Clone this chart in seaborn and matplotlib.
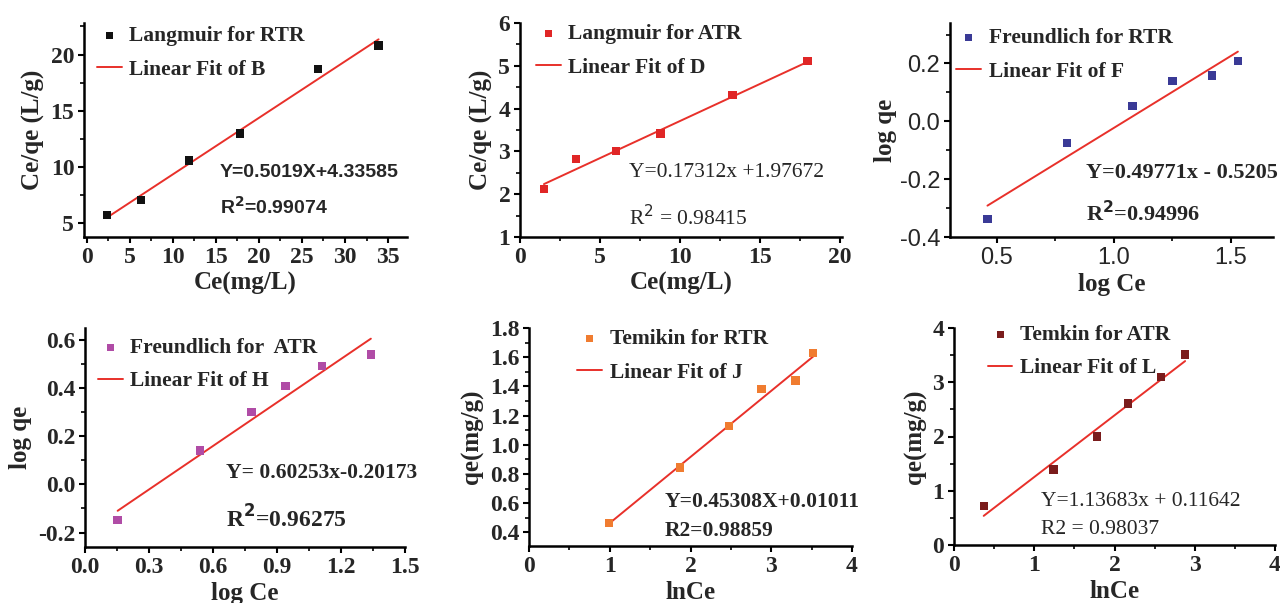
import numpy as np
import pandas as pd
import matplotlib
matplotlib.use("Agg")
import matplotlib.pyplot as plt
from matplotlib.ticker import AutoMinorLocator, FormatStrFormatter, MultipleLocator
import seaborn as sns

sns.set_theme(style="ticks")
plt.rcParams["axes.unicode_minus"] = False
plt.rcParams["font.family"] = ["Liberation Serif", "DejaVu Serif"]

# ---- isotherm data ----
lang_rtr_x = [2.4, 6.3, 11.9, 17.8, 26.9, 33.9]
lang_rtr_y = [5.75, 7.1, 10.6, 13.0, 18.7, 20.8]
lang_rtr_fit = (0.5019, 4.33585)

lang_atr_x = [1.5, 3.5, 6.0, 8.8, 13.3, 18.0]
lang_atr_y = [2.12, 2.82, 3.01, 3.42, 4.32, 5.11]
lang_atr_fit = (0.17312, 1.97672)

freu_rtr_x = [0.46, 0.80, 1.08, 1.25, 1.42, 1.53]
freu_rtr_y = [-0.337, -0.075, 0.052, 0.139, 0.158, 0.208]
freu_rtr_fit = (0.49771, -0.5205)

freu_atr_x = [0.153, 0.539, 0.78, 0.94, 1.11, 1.34]
freu_atr_y = [-0.149, 0.141, 0.30, 0.408, 0.491, 0.54]
freu_atr_fit = (0.60253, -0.20173)

temk_rtr_x = [0.99, 1.87, 2.48, 2.88, 3.30, 3.52]
temk_rtr_y = [0.465, 0.845, 1.13, 1.38, 1.44, 1.63]
temk_rtr_fit = (0.45308, 0.01011)

temk_atr_x = [0.37, 1.24, 1.78, 2.17, 2.58, 2.88]
temk_atr_y = [0.72, 1.39, 2.00, 2.61, 3.10, 3.51]
temk_atr_fit = (1.13683, 0.11642)

FIG_W, FIG_H = 1280, 603
fig = plt.figure(figsize=(FIG_W / 100, FIG_H / 100), dpi=100)

FIT_COLOR = "#e8302a"
TICK_SIZE = 17
LABEL_SIZE = 18
LEGEND_SIZE = 15.5
NOTE_SIZE = 15.5


def px_axes(left, top, right, bottom):
    return fig.add_axes([left / FIG_W, 1 - bottom / FIG_H,
                         (right - left) / FIG_W, (bottom - top) / FIG_H])


def panel(ax, x, y, fit, color, name, fit_name):
    df = pd.DataFrame({"x": x, "y": y})
    xs = np.array([min(x), max(x)])
    line = pd.DataFrame({"x": xs, "y": fit[0] * xs + fit[1]})
    sns.scatterplot(data=df, x="x", y="y", ax=ax, marker="s", s=36,
                    color=color, edgecolor="none", label=name, zorder=3)
    sns.lineplot(data=line, x="x", y="y", ax=ax, color=FIT_COLOR,
                 linewidth=1.4, label=fit_name, zorder=2)
    for side in ("top", "right"):
        ax.spines[side].set_visible(False)
    for side in ("left", "bottom"):
        ax.spines[side].set_linewidth(1.8)
        ax.spines[side].set_color("black")
    ax.xaxis.set_minor_locator(AutoMinorLocator(2))
    ax.yaxis.set_minor_locator(AutoMinorLocator(2))
    ax.tick_params(which="major", direction="out", length=4, width=1.5, color="black", pad=3)
    ax.tick_params(which="minor", direction="out", length=3, width=1.2, color="black")


def legend(ax, ax_x, ax_y):
    return ax.legend(loc="upper left", bbox_to_anchor=(ax_x, ax_y), frameon=False,
                     borderpad=0, borderaxespad=0, handlelength=1.15,
                     handletextpad=0.35, labelspacing=0.62, markerscale=0.85,
                     prop={"family": "Liberation Serif", "weight": "bold", "size": LEGEND_SIZE})


def style_ticks(ax, family, weight, size=TICK_SIZE):
    for lab in ax.get_xticklabels() + ax.get_yticklabels():
        lab.set_fontfamily(family)
        lab.set_fontweight(weight)
        lab.set_fontsize(size)


def labels(ax, xl, yl, xpad=3, ypad=4):
    ax.set_xlabel(xl, fontsize=LABEL_SIZE, fontweight="bold", family="Liberation Serif", labelpad=xpad)
    ax.set_ylabel(yl, fontsize=LABEL_SIZE, fontweight="bold", family="Liberation Serif", labelpad=ypad)


def note(ax, x, y, s, size=NOTE_SIZE, weight="bold", family="Liberation Serif"):
    ax.text(x, y, s, transform=ax.transAxes, fontsize=size, fontweight=weight,
            family=family, va="center")


# Panel 1: Langmuir, RTR
ax1 = px_axes(84, 23, 407, 237)
panel(ax1, lang_rtr_x, lang_rtr_y, lang_rtr_fit, "#111111", "Langmuir for RTR", "Linear Fit of B")
ax1.set_xlim(-0.3, 37.2)
ax1.set_ylim(3.8, 22.8)
ax1.xaxis.set_major_locator(MultipleLocator(5))
ax1.yaxis.set_major_locator(MultipleLocator(5))
labels(ax1, "Ce(mg/L)", "Ce/qe (L/g)")
style_ticks(ax1, "Liberation Serif", "bold")
legend(ax1, 0.04, 0.985)
note(ax1, 0.42, 0.30, "Y=0.5019X+4.33585", size=14, family="Liberation Sans")
note(ax1, 0.42, 0.14, "R$^{\\mathbf{2}}$=0.99074", size=14, family="Liberation Sans")

# Panel 2: Langmuir, ATR
ax2 = px_axes(520, 23, 842, 237)
panel(ax2, lang_atr_x, lang_atr_y, lang_atr_fit, "#e02626", "Langmuir for ATR", "Linear Fit of D")
ax2.set_xlim(0, 20.15)
ax2.set_ylim(1, 6)
ax2.xaxis.set_major_locator(MultipleLocator(5))
ax2.yaxis.set_major_locator(MultipleLocator(1))
labels(ax2, "Ce(mg/L)", "Ce/qe (L/g)")
style_ticks(ax2, "Liberation Serif", "bold")
legend(ax2, 0.05, 0.995)
note(ax2, 0.34, 0.30, "Y=0.17312x +1.97672", weight="normal")
note(ax2, 0.34, 0.09, "R$^{2}$ = 0.98415", weight="normal")

# Panel 3: Freundlich, RTR
ax3 = px_axes(950, 23, 1273, 237)
panel(ax3, freu_rtr_x, freu_rtr_y, freu_rtr_fit, "#3a3a96", "Freundlich for RTR", "Linear Fit of F")
ax3.set_xlim(0.30, 1.68)
ax3.set_ylim(-0.4, 0.34)
ax3.xaxis.set_major_locator(MultipleLocator(0.5))
ax3.yaxis.set_major_locator(MultipleLocator(0.2))
ax3.xaxis.set_major_formatter(FormatStrFormatter("%.1f"))
ax3.yaxis.set_major_formatter(FormatStrFormatter("%.1f"))
labels(ax3, "log Ce", "log qe", ypad=2)
style_ticks(ax3, "Liberation Sans", "normal", 17)
legend(ax3, 0.02, 0.975)
note(ax3, 0.42, 0.30, "Y=0.49771x - 0.5205", size=16)
note(ax3, 0.42, 0.11, "R$^{\\mathbf{2}}$=0.94996", size=16)

# Panel 4: Freundlich, ATR
ax4 = px_axes(85, 328, 405, 547)
panel(ax4, freu_atr_x, freu_atr_y, freu_atr_fit, "#b04ca6", "Freundlich for  ATR", "Linear Fit of H")
ax4.set_xlim(0, 1.5)
ax4.set_ylim(-0.26, 0.65)
ax4.xaxis.set_major_locator(MultipleLocator(0.3))
ax4.yaxis.set_major_locator(MultipleLocator(0.2))
ax4.xaxis.set_major_formatter(FormatStrFormatter("%.1f"))
ax4.yaxis.set_major_formatter(FormatStrFormatter("%.1f"))
labels(ax4, "log Ce", "log qe")
style_ticks(ax4, "Liberation Serif", "bold")
legend(ax4, 0.04, 0.955)
note(ax4, 0.44, 0.34, "Y= 0.60253x-0.20173")
note(ax4, 0.44, 0.13, "R$^{\\mathbf{2}}$=0.96275", size=17)

# Panel 5: Temkin, RTR
ax5 = px_axes(529, 328, 852, 546)
panel(ax5, temk_rtr_x, temk_rtr_y, temk_rtr_fit, "#f07c30", "Temikin for RTR", "Linear Fit of J")
ax5.set_xlim(0, 4)
ax5.set_ylim(0.306, 1.8)
ax5.xaxis.set_major_locator(MultipleLocator(1))
ax5.yaxis.set_major_locator(MultipleLocator(0.2))
ax5.yaxis.set_major_formatter(FormatStrFormatter("%.1f"))
labels(ax5, "lnCe", "qe(mg/g)")
style_ticks(ax5, "Liberation Serif", "bold")
legend(ax5, 0.15, 0.995)
note(ax5, 0.42, 0.20, "Y=0.45308X+0.01011")
note(ax5, 0.42, 0.07, "R2=0.98859")

# Panel 6: Temkin, ATR
ax6 = px_axes(954, 328, 1275, 545)
panel(ax6, temk_atr_x, temk_atr_y, temk_atr_fit, "#7a1c1c", "Temkin for ATR", "Linear Fit of L")
ax6.set_xlim(0, 4)
ax6.set_ylim(0, 4)
ax6.xaxis.set_major_locator(MultipleLocator(1))
ax6.yaxis.set_major_locator(MultipleLocator(1))
labels(ax6, "lnCe", "qe(mg/g)")
style_ticks(ax6, "Liberation Serif", "bold")
legend(ax6, 0.105, 1.015)
note(ax6, 0.27, 0.20, "Y=1.13683x + 0.11642", weight="normal")
note(ax6, 0.27, 0.07, "R2 = 0.98037", weight="normal")

fig.savefig("out.png", dpi=100, facecolor="white")
